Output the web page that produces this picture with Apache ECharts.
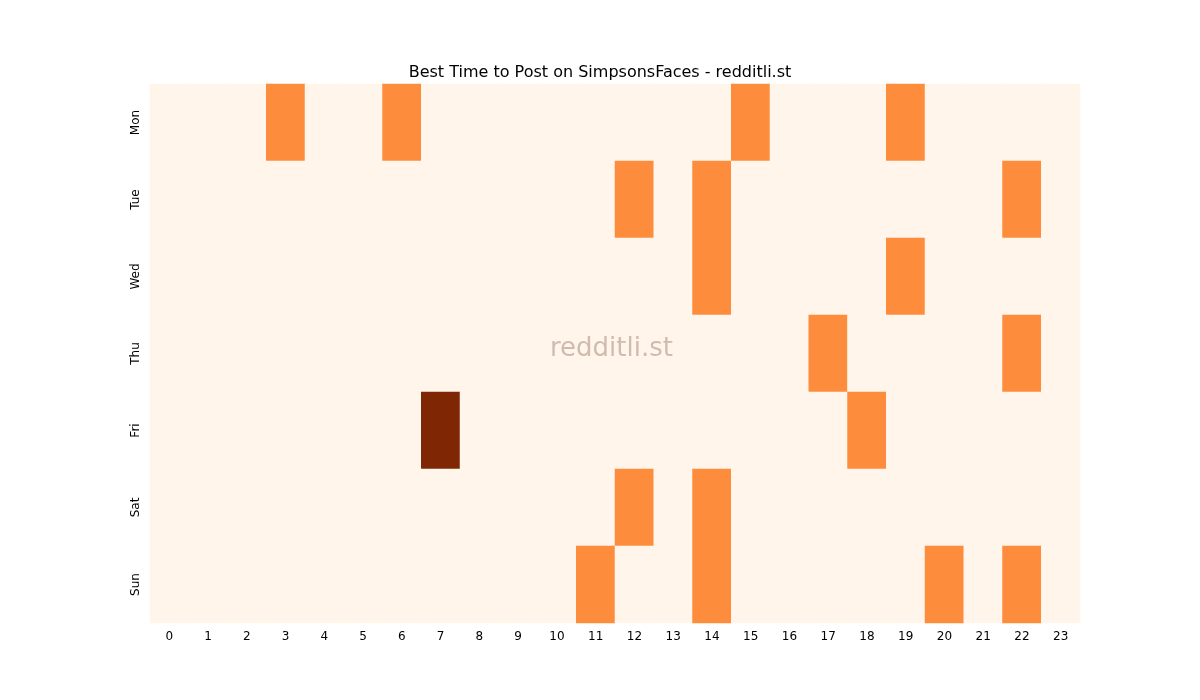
<!DOCTYPE html>
<html><head><meta charset="utf-8">
<script src="https://cdn.jsdelivr.net/npm/echarts@6/dist/echarts.min.js"></script>
<style>html,body{margin:0;padding:0;background:#fff}#c{width:1200px;height:700px}</style>
</head><body><div id="c"></div>
<script>
const hours = ['0','1','2','3','4','5','6','7','8','9','10','11','12','13','14','15','16','17','18','19','20','21','22','23'];
const days = ['Mon','Tue','Wed','Thu','Fri','Sat','Sun'];
const mon = [0,0,0,1,0,0,1,0,0,0,0,0,0,0,0,1,0,0,0,1,0,0,0,0];
const tue = [0,0,0,0,0,0,0,0,0,0,0,0,1,0,1,0,0,0,0,0,0,0,1,0];
const wed = [0,0,0,0,0,0,0,0,0,0,0,0,0,0,1,0,0,0,0,1,0,0,0,0];
const thu = [0,0,0,0,0,0,0,0,0,0,0,0,0,0,0,0,0,1,0,0,0,0,1,0];
const fri = [0,0,0,0,0,0,0,2,0,0,0,0,0,0,0,0,0,0,1,0,0,0,0,0];
const sat = [0,0,0,0,0,0,0,0,0,0,0,0,1,0,1,0,0,0,0,0,0,0,0,0];
const sun = [0,0,0,0,0,0,0,0,0,0,0,1,0,0,1,0,0,0,0,0,1,0,1,0];
const rows = [mon,tue,wed,thu,fri,sat,sun];
const data = [];
rows.forEach((r,d)=>r.forEach((v,h)=>data.push([h,d,v])));
const chart = echarts.init(document.getElementById('c'));
const font = 'DejaVu Sans';
chart.setOption({
  animation:false,
  title:{text:'Best Time to Post on SimpsonsFaces - redditli.st',left:'center',top:60,textStyle:{fontFamily:font,fontSize:16,fontWeight:'normal',color:'#000'}},
  grid:{left:150,right:120,top:84,bottom:77},
  xAxis:{type:'category',data:hours,axisLine:{show:false},axisTick:{alignWithLabel:true,length:4,lineStyle:{color:'#000'}},axisLabel:{fontFamily:font,fontSize:12,color:'#000',margin:8},splitLine:{show:false}},
  yAxis:{type:'category',data:days,inverse:true,axisLine:{show:false},axisTick:{alignWithLabel:true,length:4,lineStyle:{color:'#000'}},axisLabel:{fontFamily:font,fontSize:12,color:'#000',rotate:90,margin:8},splitLine:{show:false}},
  visualMap:{show:false,min:0,max:2,inRange:{color:['#fff5eb','#fd8d3c','#7f2704']}},
  graphic:[{type:'text',left:'center',top:336,style:{text:'redditli.st',fontFamily:font,fontSize:26,fill:'rgba(150,120,100,0.45)'},z:100,x:0,left:550}],
  series:[{type:'heatmap',data:data,itemStyle:{borderWidth:0}}]
});
</script></body></html>
